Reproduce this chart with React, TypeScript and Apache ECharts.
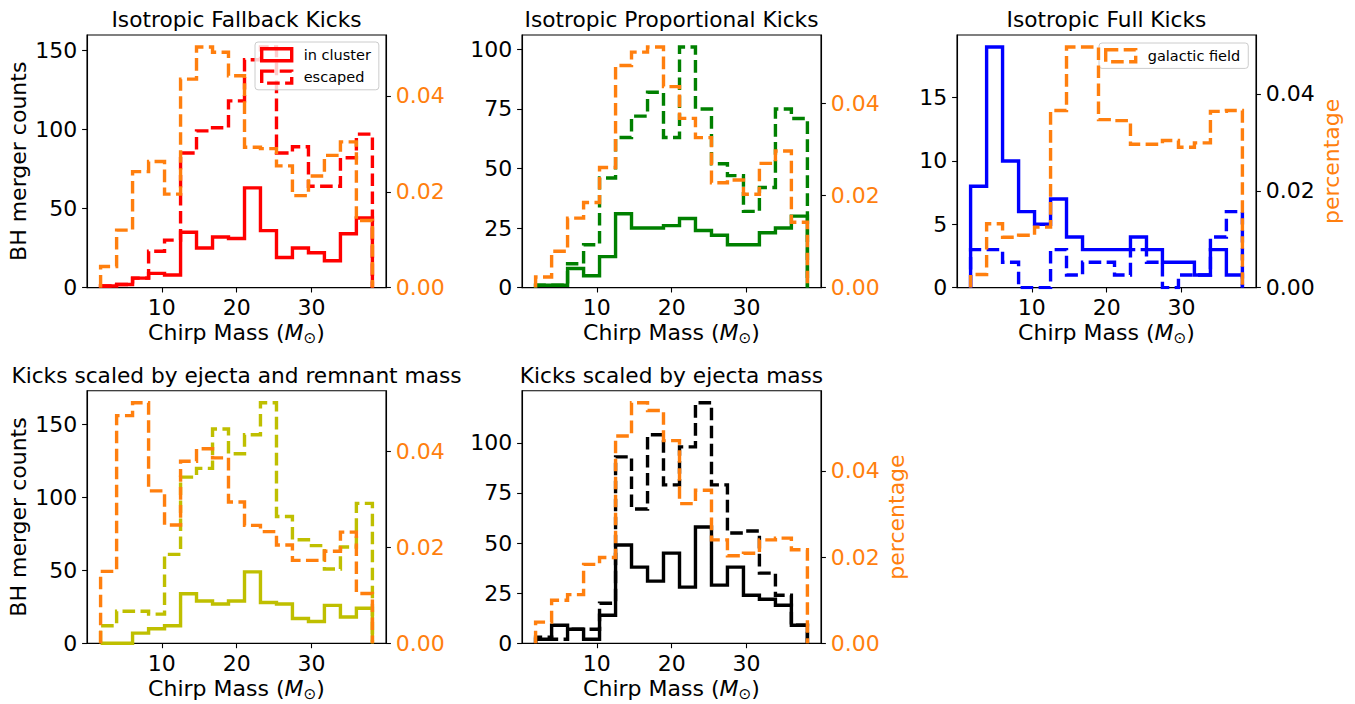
import React, { useEffect, useRef } from "react";
import * as echarts from "echarts";

// ---------- data ----------
const binEdges = [1.83, 3.97, 6.1, 8.24, 10.37, 12.51, 14.64, 16.78, 18.91, 21.05, 23.18, 25.32, 27.45, 29.59, 31.72, 33.86, 35.99, 38.13];

const titles = [
  "Isotropic Fallback Kicks",
  "Isotropic Proportional Kicks",
  "Isotropic Full Kicks",
  "Kicks scaled by ejecta and remnant mass",
  "Kicks scaled by ejecta mass",
];

// counts (left axis)
const inCluster1 = [1, 2, 6, 9, 8, 35, 25, 32, 31, 63, 36, 19, 25, 22, 17, 34, 44];
const escaped1 = [1, 2, 6, 23, 30, 85, 99, 101, 118, 144, 152, 85, 89, 64, 64, 82, 97];
const inCluster2 = [1, 1, 8, 5, 13, 31, 25, 25, 26, 29, 24, 22, 18, 18, 23, 25, 30];
const escaped2 = [1, 1, 10, 18, 46, 63, 72, 82, 63, 101, 75, 52, 47, 32, 42, 75, 71];
const inCluster3 = [8, 19, 10, 6, 5, 7, 4, 3, 3, 3, 4, 3, 2, 2, 1, 3, 1];
const escaped3 = [3, 3, 2, 0, 0, 3, 1, 2, 2, 1, 3, 2, 0, 1, 1, 4, 6];
const inCluster4 = [0, 0, 7, 10, 12, 34, 29, 27, 29, 49, 28, 27, 17, 15, 26, 18, 24];
const escaped4 = [12, 22, 22, 20, 61, 114, 120, 147, 130, 143, 165, 87, 71, 67, 51, 66, 96];
const inCluster5 = [2, 9, 7, 2, 14, 49, 38, 31, 45, 28, 58, 29, 38, 24, 22, 19, 9];
const escaped5 = [3, 2, 7, 7, 20, 93, 67, 104, 79, 98, 120, 79, 55, 56, 35, 24, 9];

// galactic field percentage (right axis)
const galactic1 = [0.0044, 0.012, 0.0242, 0.0263, 0.0195, 0.0435, 0.0502, 0.0491, 0.0442, 0.0293, 0.029, 0.0254, 0.0192, 0.0233, 0.0276, 0.0304, 0.014];
const galactic2 = [0.0023, 0.0079, 0.0151, 0.0185, 0.0261, 0.0483, 0.0512, 0.0523, 0.0437, 0.0368, 0.0326, 0.0228, 0.0234, 0.0203, 0.027, 0.0297, 0.0142];
const galactic3 = [0.0027, 0.0132, 0.0104, 0.0108, 0.0125, 0.0366, 0.0497, 0.0497, 0.0347, 0.0345, 0.0296, 0.0296, 0.0304, 0.029, 0.0299, 0.0364, 0.0366];
const galactic4 = [0.015, 0.0475, 0.0502, 0.0318, 0.0247, 0.038, 0.0406, 0.0387, 0.0295, 0.0246, 0.0233, 0.0205, 0.0173, 0.0173, 0.0192, 0.0232, 0.0104];
const galactic5 = [0.0049, 0.01, 0.0113, 0.0183, 0.0199, 0.0481, 0.0558, 0.054, 0.047, 0.0324, 0.0355, 0.024, 0.0203, 0.0209, 0.024, 0.0244, 0.0217];

// tick labels
const xTicks = [10, 20, 30];
const pctTicks = [0, 0.02, 0.04];
const countTicksA = [0, 50, 100, 150];
const countTicksB = [0, 25, 50, 75, 100];
const countTicksC = [0, 5, 10, 15];

// ---------- styling ----------
const FONT = "DejaVu Sans";
const FS = 22;
const TITLE_FS = 21.7;
const ORANGE = "#ff7f0e";
const LW = 3.4;
const DASH = [12.6, 5.4];

const panels = [
  { title: titles[0], inC: inCluster1, esc: escaped1, gal: galactic1, color: "#ff0000", ticks: countTicksA, leftName: true, rightName: false, rightLabelColor: ORANGE, row: 0, col: 0 },
  { title: titles[1], inC: inCluster2, esc: escaped2, gal: galactic2, color: "#008000", ticks: countTicksB, leftName: false, rightName: false, rightLabelColor: ORANGE, row: 0, col: 1 },
  { title: titles[2], inC: inCluster3, esc: escaped3, gal: galactic3, color: "#0000ff", ticks: countTicksC, leftName: false, rightName: true, rightLabelColor: "#000000", row: 0, col: 2 },
  { title: titles[3], inC: inCluster4, esc: escaped4, gal: galactic4, color: "#bfbf00", ticks: countTicksA, leftName: true, rightName: false, rightLabelColor: ORANGE, row: 1, col: 0 },
  { title: titles[4], inC: inCluster5, esc: escaped5, gal: galactic5, color: "#000000", ticks: countTicksB, leftName: false, rightName: true, rightLabelColor: ORANGE, row: 1, col: 1 },
];

const colLeft = [87, 522, 957];
const rowTop = [35, 390.7];
const GW = 299;
const GH = 252.6;

function stepPoints(edges: number[], vals: number[]) {
  const pts: number[][] = [[edges[0], 0]];
  vals.forEach((v, i) => {
    pts.push([edges[i], v]);
    pts.push([edges[i + 1], v]);
  });
  pts.push([edges[edges.length - 1], 0]);
  return pts;
}

function buildOption() {
  const span = binEdges[binEdges.length - 1] - binEdges[0];
  const xMin = binEdges[0] - 0.05 * span;
  const xMax = binEdges[binEdges.length - 1] + 0.05 * span;

  const grid: any[] = [];
  const xAxis: any[] = [];
  const yAxis: any[] = [];
  const series: any[] = [];
  const graphic: any[] = [];

  const tickStyle = { color: "#000", width: 1.1 };

  panels.forEach((p, i) => {
    const left = colLeft[p.col];
    const top = rowTop[p.row];
    grid.push({ left, top, width: GW, height: GH, show: true, borderColor: "#000", borderWidth: 1.1, backgroundColor: "transparent" });

    xAxis.push({
      type: "value",
      gridIndex: i,
      min: xMin,
      max: xMax,
      axisLine: { show: true, onZero: false, lineStyle: tickStyle },
      axisTick: { show: true, length: 4.9, lineStyle: tickStyle, customValues: xTicks },
      axisLabel: { customValues: xTicks, margin: 9.2, fontSize: FS, fontFamily: FONT, color: "#000" },
      splitLine: { show: false },
      name: "Chirp Mass ({i|M}{s|⊙})",
      nameLocation: "middle",
      nameGap: 30,
      nameTextStyle: {
        fontSize: FS,
        fontFamily: FONT,
        color: "#000",
        lineHeight: 26,
        rich: {
          i: { fontSize: FS, fontFamily: FONT, fontStyle: "italic", color: "#000", lineHeight: 26 },
          s: { fontSize: 15.4, fontFamily: FONT, color: "#000", lineHeight: 15, verticalAlign: "bottom" },
        },
      },
    });

    const leftMax = 1.05 * Math.max(...p.inC, ...p.esc);
    const rightMax = 1.05 * Math.max(...p.gal);

    yAxis.push({
      type: "value",
      gridIndex: i,
      position: "left",
      min: 0,
      max: leftMax,
      axisLine: { show: true, onZero: false, lineStyle: tickStyle },
      axisTick: { show: true, length: 4.9, lineStyle: tickStyle, customValues: p.ticks },
      axisLabel: { customValues: p.ticks, margin: 9.7, fontSize: FS, fontFamily: FONT, color: "#000" },
      splitLine: { show: false },
      name: p.leftName ? "BH merger counts" : "",
      nameLocation: "middle",
      nameRotate: 90,
      nameGap: 58,
      nameTextStyle: { fontSize: FS, fontFamily: FONT, color: "#000" },
    });
    yAxis.push({
      type: "value",
      gridIndex: i,
      position: "right",
      min: 0,
      max: rightMax,
      axisLine: { show: true, onZero: false, lineStyle: tickStyle },
      axisTick: { show: true, length: 4.9, lineStyle: tickStyle, customValues: pctTicks },
      axisLabel: {
        customValues: pctTicks,
        margin: 9.7,
        fontSize: FS,
        fontFamily: FONT,
        color: p.rightLabelColor,
        formatter: (v: number) => v.toFixed(2),
      },
      splitLine: { show: false },
      name: p.rightName ? "percentage" : "",
      nameLocation: "middle",
      nameRotate: 90,
      nameGap: 64,
      nameTextStyle: { fontSize: FS, fontFamily: FONT, color: ORANGE },
    });

    const common = { type: "line", xAxisIndex: i, symbol: "none", showSymbol: false, silent: true, animation: false };
    series.push({
      ...common,
      name: "in cluster",
      yAxisIndex: 2 * i,
      data: stepPoints(binEdges, p.inC),
      itemStyle: { color: p.color },
      lineStyle: { color: p.color, width: LW, type: "solid", join: "miter" },
      z: 2,
    });
    series.push({
      ...common,
      name: "escaped",
      yAxisIndex: 2 * i,
      data: stepPoints(binEdges, p.esc),
      itemStyle: { color: p.color },
      lineStyle: { color: p.color, width: LW, type: DASH, cap: "butt", join: "miter" },
      z: 3,
    });
    series.push({
      ...common,
      name: "galactic field",
      yAxisIndex: 2 * i + 1,
      data: stepPoints(binEdges, p.gal),
      itemStyle: { color: ORANGE },
      lineStyle: { color: ORANGE, width: LW, type: DASH, cap: "butt", join: "miter" },
      z: 4,
    });

    graphic.push({
      type: "text",
      x: left + GW / 2,
      y: top - 15.5,
      style: {
        text: p.title,
        font: `${TITLE_FS}px "${FONT}"`,
        fill: "#000",
        align: "center",
        verticalAlign: "middle",
        textAlign: "center",
        textVerticalAlign: "middle",
      },
    });
  });

  const legendCommon = {
    show: true,
    orient: "vertical",
    itemWidth: 30,
    itemHeight: 12,
    itemGap: 7,
    padding: [5, 8, 5, 5],
    backgroundColor: "rgba(255,255,255,0.8)",
    borderColor: "#cccccc",
    borderWidth: 1,
    borderRadius: 3,
    selectedMode: false,
    textStyle: { fontSize: 14.5, fontFamily: FONT, color: "#000", padding: [0, 0, 0, 7] },
  };

  const legend = [
    {
      ...legendCommon,
      left: 255,
      top: 42,
      data: [
        { name: "in cluster", icon: "rect", itemStyle: { color: "rgba(0,0,0,0)", borderColor: "#ff0000", borderWidth: LW, borderType: "solid" } },
        { name: "escaped", icon: "rect", itemStyle: { color: "rgba(0,0,0,0)", borderColor: "#ff0000", borderWidth: LW, borderType: DASH } },
      ],
    },
    {
      ...legendCommon,
      left: 1099,
      top: 43,
      data: [
        { name: "galactic field", icon: "rect", itemStyle: { color: "rgba(0,0,0,0)", borderColor: ORANGE, borderWidth: LW, borderType: DASH } },
      ],
    },
  ];

  return {
    animation: false,
    backgroundColor: "#ffffff",
    textStyle: { fontFamily: FONT },
    grid,
    xAxis,
    yAxis,
    series,
    legend,
    graphic,
  };
}

export default function App() {
  const ref = useRef<HTMLDivElement>(null);
  useEffect(() => {
    if (!ref.current) return;
    const chart = echarts.init(ref.current, undefined, { renderer: "svg" });
    chart.setOption(buildOption() as any);
    return () => chart.dispose();
  }, []);
  return (
    <div
      ref={ref}
      style={{ position: "absolute", left: 0, top: 0, width: 1355, height: 704, background: "#fff" }}
    />
  );
}
